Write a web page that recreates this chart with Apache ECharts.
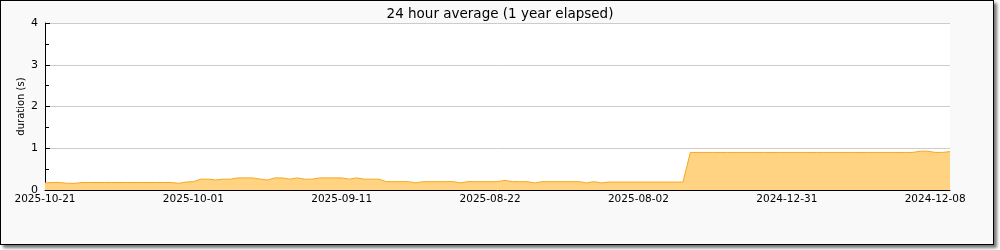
<!DOCTYPE html>
<html>
<head>
<meta charset="utf-8">
<script src="https://cdn.jsdelivr.net/npm/echarts@6/dist/echarts.min.js"></script>
<style>
html,body{margin:0;padding:0;width:1000px;height:250px;overflow:hidden;background:#fff;}
#frame{position:absolute;left:0;top:0;width:992px;height:243px;border:1px solid #000;background:#f9f9f9;box-shadow:3px 3px 3px #777;}
#chart{position:absolute;left:0;top:0;width:1000px;height:250px;}
</style>
</head>
<body>
<div id="frame"></div>
<div id="chart"></div>
<script>
var titleText = '24 hour average (1 year elapsed)';
var yAxisName = 'duration (s)';
var tickLabels = ['2025-10-21','2025-10-01','2025-09-11','2025-08-22','2025-08-02','2024-12-31','2024-12-08'];
var labelEvery = 20;
var tickEvery = 10;
var durations = [
0.17,0.18,0.18,0.16,0.16,
0.18,0.18,0.18,0.18,0.18,0.18,0.18,0.18,0.18,0.18,0.18,0.18,0.18,
0.16,0.19,0.20,
0.26,0.26,0.24,0.26,0.26,0.29,0.29,0.29,0.26,0.24,
0.29,0.29,0.26,0.29,0.26,0.26,0.29,0.29,0.29,0.29,
0.26,0.29,0.26,0.26,0.26,0.20,0.20,0.20,0.20,0.17,
0.20,0.20,0.20,0.20,0.20,0.17,0.20,0.20,0.20,0.20,
0.20,0.23,0.20,0.20,0.20,0.17,0.20,0.20,0.20,0.20,
0.20,0.20,0.17,0.20,0.17,0.19,0.19,0.19,0.19,0.19,
0.19,0.19,0.19,0.19,0.19,0.19,0.90,0.90,0.90,0.90,
0.90,0.90,0.90,0.90,0.90,0.90,0.90,0.90,0.90,0.90,
0.90,0.90,0.90,0.90,0.90,0.90,0.90,0.90,0.90,0.90,
0.90,0.90,0.90,0.90,0.90,0.90,0.90,0.93,0.93,0.90,
0.90,0.92
];
var categories = durations.map(function(v, i){
  return (i % labelEvery === 0 && tickLabels[i / labelEvery]) ? tickLabels[i / labelEvery] : '';
});
var chart = echarts.init(document.getElementById('chart'), null, {renderer:'canvas'});
var font = 'DejaVu Sans';
chart.setOption({
  animation:false,
  backgroundColor:'transparent',
  textStyle:{fontFamily:font},
  title:{text:titleText,left:'center',top:2,textStyle:{fontSize:13.5,fontWeight:'normal',color:'#000',fontFamily:font}},
  grid:{left:45,right:50,top:23,bottom:60,show:true,backgroundColor:'#fff',borderWidth:0},
  xAxis:{
    type:'category',data:categories,boundaryGap:false,
    axisLine:{lineStyle:{color:'#000',width:1}},
    axisTick:{inside:true,length:5,interval:function(i){return i % tickEvery === 0;},lineStyle:{color:'#000'}},
    axisLabel:{interval:function(i){return i % labelEvery === 0;},hideOverlap:false,margin:4,fontSize:10.5,color:'#000',fontFamily:font},
    splitLine:{show:false}
  },
  yAxis:{
    type:'value',min:0,max:4,interval:1,
    name:yAxisName,nameLocation:'middle',nameRotate:90,nameGap:19,nameMoveOverlap:false,
    nameTextStyle:{fontSize:10,color:'#000',fontFamily:font},
    axisLine:{show:true,lineStyle:{color:'#000',width:1}},
    axisTick:{show:true,inside:true,length:5,lineStyle:{color:'#000'}},
    minorTick:{show:true,splitNumber:2,length:4,lineStyle:{color:'#000'}},
    axisLabel:{margin:7,fontSize:11,color:'#000',fontFamily:font},
    splitLine:{show:true,lineStyle:{color:'#cccccc',width:1}}
  },
  series:[{
    type:'line',data:durations,showSymbol:false,symbol:'none',
    lineStyle:{color:'#f5a81f',width:1},
    areaStyle:{color:'#ffd382',opacity:1},
    z:1
  }]
});
</script>
</body>
</html>
